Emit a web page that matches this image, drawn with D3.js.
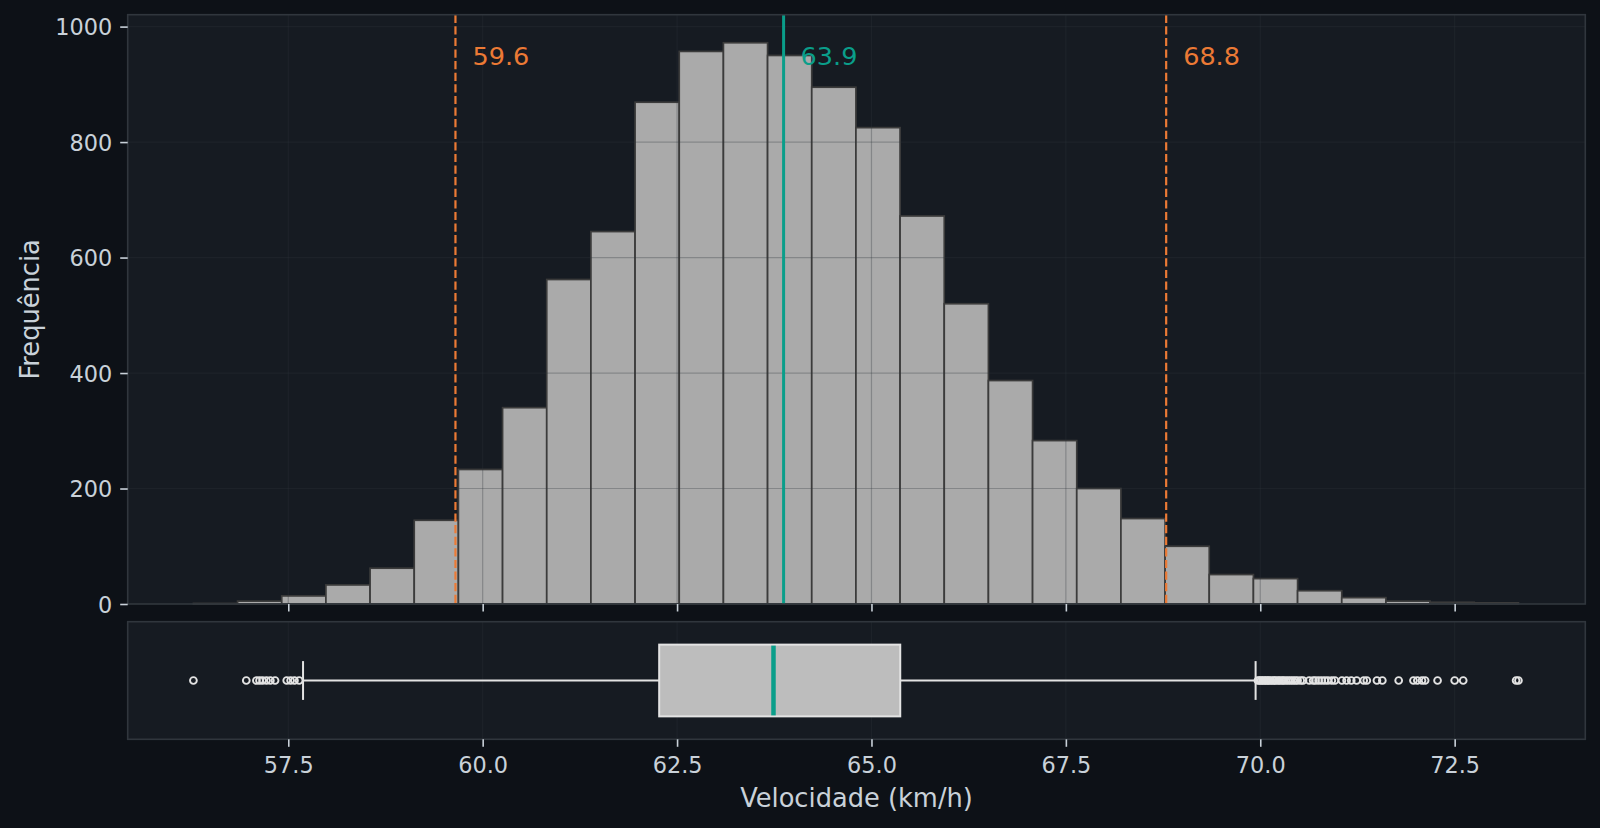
<!DOCTYPE html>
<html>
<head>
<meta charset="utf-8">
<script src="https://cdn.jsdelivr.net/npm/d3@7"></script>
<style>
    html, body { margin: 0; padding: 0; background: #0d1117; }
    svg { display: block; font-family: "DejaVu Sans", sans-serif; }
</style>
</head>
<body>
<div id="chart"></div>
<script>
// histogram: 30 equal bins between binLow and binHigh
const binLow = 56.28;
const binHigh = 73.32;
const binCounts = [1, 5, 14, 33, 62, 145, 233, 340, 562, 645,
    869, 957, 972, 950, 895, 825, 672, 520, 387, 283,
    200, 148, 100, 51, 44, 23, 11, 5, 3, 2];

// reference lines
const meanValue = 63.87;
const lowerPct = 59.65;
const upperPct = 68.79;

// box plot summary
const boxStats = { whiskerLow: 57.69, q1: 62.27, median: 63.74, q3: 65.37, whiskerHigh: 69.94 };
const outliers = [56.28, 56.96, 57.09, 57.13, 57.17, 57.22, 57.27, 57.33, 57.48, 57.53, 57.58, 57.64,
    69.97, 69.99, 70.01, 70.03, 70.05, 70.07, 70.09, 70.11, 70.13, 70.16, 70.18, 70.2, 70.23,
    70.25, 70.28, 70.3, 70.33, 70.36, 70.39, 70.42, 70.45, 70.48, 70.52, 70.55, 70.63, 70.68,
    70.71, 70.75, 70.79, 70.83, 70.87, 70.92, 70.96, 71.05, 71.11, 71.17, 71.24, 71.33, 71.37,
    71.5, 71.57, 71.78, 71.97, 72.02, 72.08, 72.12, 72.28, 72.5, 72.61, 73.29, 73.32];

const xTicks = [57.5, 60.0, 62.5, 65.0, 67.5, 70.0, 72.5];
const yTicks = [0, 200, 400, 600, 800, 1000];
const xDomain = [55.435, 74.18];
const yMax = 1020.6;

const W = 1600, H = 828;
const plot = { left: 127.7, right: 1585.3, top: 14.7, bottom: 604 };
const boxPanel = { top: 621.7, bottom: 739.3 };

const colors = {
    axesBg: "#161b22",
    spine: "#30363d",
    grid: "#30363d",
    text: "#c9d1d9",
    bar: "#aaaaaa",
    barEdge: "#3b3b3b",
    orange: "#ec7a35",
    teal: "#0a9e8a",
    box: "#bdbdbd",
    boxLine: "#e3e3e3"
};

const svg = d3.select("#chart")
    .append("svg")
    .attr("width", W)
    .attr("height", H)
    .attr("viewBox", "0 0 " + W + " " + H);

svg.append("rect").attr("width", W).attr("height", H).attr("fill", "#0d1117");

const x = d3.scaleLinear().domain(xDomain).range([plot.left, plot.right]);
const y = d3.scaleLinear().domain([0, yMax]).range([plot.bottom, plot.top]);
const yBox = d3.scaleLinear().domain([0.5, 1.5]).range([boxPanel.bottom, boxPanel.top]);

const binWidth = (binHigh - binLow) / binCounts.length;
const bins = binCounts.map(function (c, i) {
    return { x0: binLow + i * binWidth, x1: binLow + (i + 1) * binWidth, count: c };
});

// panel backgrounds
[[plot.top, plot.bottom], [boxPanel.top, boxPanel.bottom]].forEach(function (p) {
    svg.append("rect")
        .attr("x", plot.left)
        .attr("y", p[0])
        .attr("width", plot.right - plot.left)
        .attr("height", p[1] - p[0])
        .attr("fill", colors.axesBg);
});

// histogram bars
svg.append("g")
    .selectAll("rect")
    .data(bins)
    .join("rect")
    .attr("x", function (d) { return x(d.x0); })
    .attr("y", function (d) { return y(d.count); })
    .attr("width", function (d) { return x(d.x1) - x(d.x0); })
    .attr("height", function (d) { return y(0) - y(d.count); })
    .attr("fill", colors.bar)
    .attr("stroke", colors.barEdge)
    .attr("stroke-width", 1.7);

// grid (drawn over the bars, faint)
const grid = svg.append("g")
    .attr("stroke", colors.grid)
    .attr("stroke-opacity", 0.3)
    .attr("stroke-width", 1.2);

grid.selectAll("line.gx")
    .data(xTicks)
    .join("line")
    .attr("class", "gx")
    .attr("x1", function (d) { return x(d); })
    .attr("x2", function (d) { return x(d); })
    .attr("y1", plot.top)
    .attr("y2", plot.bottom);

grid.selectAll("line.gy")
    .data(yTicks)
    .join("line")
    .attr("class", "gy")
    .attr("x1", plot.left)
    .attr("x2", plot.right)
    .attr("y1", function (d) { return y(d); })
    .attr("y2", function (d) { return y(d); });

grid.selectAll("line.gb")
    .data(xTicks)
    .join("line")
    .attr("class", "gb")
    .attr("x1", function (d) { return x(d); })
    .attr("x2", function (d) { return x(d); })
    .attr("y1", boxPanel.top)
    .attr("y2", boxPanel.bottom);

// reference lines + labels
const refLines = [
    { value: lowerPct, color: colors.orange, dash: "8.2,3.4", label: lowerPct.toFixed(1) },
    { value: meanValue, color: colors.teal, dash: null, label: meanValue.toFixed(1) },
    { value: upperPct, color: colors.orange, dash: "8.2,3.4", label: upperPct.toFixed(1) }
];

svg.append("g")
    .selectAll("line")
    .data(refLines)
    .join("line")
    .attr("x1", function (d) { return x(d.value); })
    .attr("x2", function (d) { return x(d.value); })
    .attr("y1", plot.top)
    .attr("y2", plot.bottom)
    .attr("stroke", function (d) { return d.color; })
    .attr("stroke-width", function (d) { return d.dash ? 2.2 : 3; })
    .attr("stroke-dasharray", function (d) { return d.dash; });

svg.append("g")
    .selectAll("text")
    .data(refLines)
    .join("text")
    .attr("x", function (d) { return x(d.value) + 17; })
    .attr("y", y(950))
    .attr("dy", "0.36em")
    .attr("fill", function (d) { return d.color; })
    .attr("font-size", 25.5)
    .text(function (d) { return d.label; });

// box plot
const bp = svg.append("g");
const boxHalf = 0.305, capHalf = 0.165;

bp.selectAll("line.whisker")
    .data([[boxStats.whiskerLow, boxStats.q1], [boxStats.q3, boxStats.whiskerHigh]])
    .join("line")
    .attr("x1", function (d) { return x(d[0]); })
    .attr("x2", function (d) { return x(d[1]); })
    .attr("y1", yBox(1))
    .attr("y2", yBox(1))
    .attr("stroke", colors.boxLine)
    .attr("stroke-width", 2);

bp.selectAll("line.cap")
    .data([boxStats.whiskerLow, boxStats.whiskerHigh])
    .join("line")
    .attr("x1", function (d) { return x(d); })
    .attr("x2", function (d) { return x(d); })
    .attr("y1", yBox(1 - capHalf))
    .attr("y2", yBox(1 + capHalf))
    .attr("stroke", colors.boxLine)
    .attr("stroke-width", 2);

bp.append("rect")
    .attr("x", x(boxStats.q1))
    .attr("y", yBox(1 + boxHalf))
    .attr("width", x(boxStats.q3) - x(boxStats.q1))
    .attr("height", yBox(1 - boxHalf) - yBox(1 + boxHalf))
    .attr("fill", colors.box)
    .attr("stroke", colors.boxLine)
    .attr("stroke-width", 2);

bp.append("line")
    .attr("x1", x(boxStats.median))
    .attr("x2", x(boxStats.median))
    .attr("y1", yBox(1 + boxHalf) + 1)
    .attr("y2", yBox(1 - boxHalf) - 1)
    .attr("stroke", colors.teal)
    .attr("stroke-width", 4.5);

bp.selectAll("circle")
    .data(outliers)
    .join("circle")
    .attr("cx", function (d) { return x(d); })
    .attr("cy", yBox(1))
    .attr("r", 3.4)
    .attr("fill", "none")
    .attr("stroke", colors.boxLine)
    .attr("stroke-width", 1.9);

// spines
[[plot.top, plot.bottom], [boxPanel.top, boxPanel.bottom]].forEach(function (p) {
    svg.append("rect")
        .attr("x", plot.left)
        .attr("y", p[0])
        .attr("width", plot.right - plot.left)
        .attr("height", p[1] - p[0])
        .attr("fill", "none")
        .attr("stroke", colors.spine)
        .attr("stroke-width", 1.6);
});

// axes
const styleAxis = function (g) {
    g.select(".domain").remove();
    g.selectAll(".tick line").attr("stroke", colors.text).attr("stroke-width", 1.6);
    g.selectAll(".tick text")
        .attr("fill", colors.text)
        .attr("font-size", 22.4)
        .attr("font-family", "DejaVu Sans, sans-serif");
};

svg.append("g")
    .attr("transform", "translate(" + plot.left + ",0)")
    .call(d3.axisLeft(y).tickValues(yTicks).tickSize(7.5).tickPadding(8).tickFormat(d3.format("d")))
    .call(styleAxis)
    .selectAll(".tick text").attr("dy", "0.36em");

svg.append("g")
    .attr("transform", "translate(0," + plot.bottom + ")")
    .call(d3.axisBottom(x).tickValues(xTicks).tickSize(7.5).tickFormat(""))
    .call(styleAxis);

svg.append("g")
    .attr("transform", "translate(0," + boxPanel.bottom + ")")
    .call(d3.axisBottom(x).tickValues(xTicks).tickSize(7.5).tickPadding(10).tickFormat(d3.format(".1f")))
    .call(styleAxis)
    .selectAll(".tick text").attr("dy", "0.71em");

// axis labels
svg.append("text")
    .attr("x", (plot.left + plot.right) / 2)
    .attr("y", 806.7)
    .attr("text-anchor", "middle")
    .attr("fill", colors.text)
    .attr("font-size", 25.7)
    .text("Velocidade (km/h)");

svg.append("text")
    .attr("transform", "translate(39.3," + ((plot.top + plot.bottom) / 2) + ") rotate(-90)")
    .attr("text-anchor", "middle")
    .attr("fill", colors.text)
    .attr("font-size", 25.7)
    .text("Frequência");
</script>
</body>
</html>
